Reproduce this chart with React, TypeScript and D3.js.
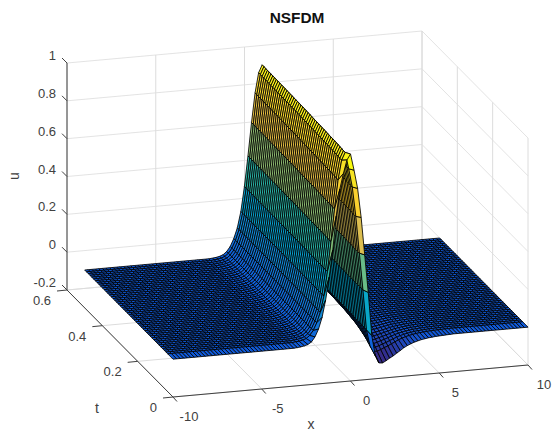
import React from "react";
import * as d3 from "d3";

const xTicks = [-10, -5, 0, 5, 10];
const tTicks = [0, 0.2, 0.4, 0.6];
const zTicks = [-0.2, 0, 0.2, 0.4, 0.6, 0.8, 1];
const xStart = -10, xStep = 0.2;
const tRows = [0,0.03,0.04,0.05,0.06,0.07,0.08,0.09,0.1,0.11,0.12,0.13,0.14,0.15,0.16,0.17,0.18,0.19,0.2,0.21,0.22,0.23,0.24,0.25,0.26,0.27,0.28,0.29,0.3,0.31,0.32,0.33,0.34,0.35,0.36,0.37,0.38,0.39,0.4,0.41,0.42,0.43,0.44,0.45,0.46,0.47,0.48,0.49,0.5];

// u at t = 0, x = -10..10 in steps of 0.2
const initialLeft = [0.002,0.004,0.008,0.013,0.025,0.05,0.09,0.15,0.24,0.36,0.5,0.68,0.82,0.9,0.97];
const initialRight = [1,0.913,0.815,0.66,0.46,0.26,0.03,-0.08,-0.118,-0.12,-0.11,-0.098,-0.088,-0.075,-0.063,-0.05,-0.04,-0.032,-0.025,-0.02,-0.015,-0.012,-0.009,-0.007,-0.005,-0.004,-0.003,-0.002,-0.001];
// u for later rows
const laterLeft = [0.002,0.004,0.008,0.015,0.03,0.055,0.095,0.15,0.235,0.365,0.525,0.7,0.855,0.96];
const laterRight = [1,0.91,0.81,0.65,0.45,0.25,0.04,0.01];
// transient negative tail, x = 1.2 upward
const tail = [-0.01,-0.09,-0.118,-0.12,-0.11,-0.098,-0.088,-0.075,-0.063,-0.05,-0.04,-0.032,-0.025,-0.02,-0.015,-0.012,-0.009,-0.007,-0.005,-0.004,-0.003,-0.002,-0.001];
const tailWeight = [1,0.72,0.62,0.54,0.47,0.41,0.36,0.31,0.27,0.23,0.2,0.18,0.16,0.14,0.12,0.1,0.09,0.08,0.07,0.06,0.05,0.04,0.03,0.025,0.02,0.015,0.01,0.005];
const peakScale = [1,0.98,0.98,0.982,0.982,0.984,0.984,0.985,0.985,0.986,0.986,0.987,0.987,0.988,0.988,0.989,0.989,0.99,0.99,0.991,0.991,0.992,0.992,0.993,0.993,0.994,0.994,0.995,0.995,0.995,0.995,0.996,0.996,0.996,0.996,0.997,0.997,0.997,0.997,0.998,0.998,0.998,0.998,0.999,0.999,0.999,0.999,1,1];
const parulaPos = [0, 0.11, 0.22, 0.33, 0.44, 0.56, 0.67, 0.78, 0.89, 1];
const parulaStops = ["#352a87","#0f5cdd","#1481d6","#06a4ca","#2eb7a4","#87bf77","#d1bb59","#fec832","#f5d92c","#f9fb0e"];

const N = 101;
const peakIdx = 50;
const at = (left: number[], right: number[], i: number) => {
  if (i < peakIdx) { const j = i - (peakIdx - left.length); return j >= 0 ? left[j] : 0; }
  const j = i - peakIdx; return j < right.length ? right[j] : 0;
};
const zAt = (k: number, i: number) => {
  if (k === 0) return at(initialLeft, initialRight, i);
  const tailIdx = i - (peakIdx + 6);
  const w = k < tailWeight.length ? tailWeight[k] : 0;
  const d = tailIdx >= 0 && tailIdx < tail.length ? tail[tailIdx] : 0;
  return peakScale[k] * at(laterLeft, laterRight, i) + w * d;
};

const X = d3.scaleLinear().domain([-10, 10]).range([0, 1]);
const T = d3.scaleLinear().domain([0, 0.6]).range([0, 1]);
const Z = d3.scaleLinear().domain([-0.2, 1]).range([0, 1]);
const O = [173, 397], VX = [355, -32], VT = [-106, -107], VZ = [0, -227];
const P = (x: number, t: number, z: number): [number, number] => [
  O[0] + VX[0] * X(x) + VT[0] * T(t) + VZ[0] * Z(z),
  O[1] + VX[1] * X(x) + VT[1] * T(t) + VZ[1] * Z(z),
];
const color = d3.scaleLinear<string>().domain(parulaPos.map((p) => -0.12 + 1.12 * p)).range(parulaStops).interpolate(d3.interpolateRgb).clamp(true);
const line = d3.line();
const pth = (a: [number, number], b: [number, number]) => line([a, b]) as string;

const grid = "#dcdcdc", ax = "#404040";
const font = "Arial, 'Liberation Sans', sans-serif";

export default function App() {
  const faces: React.ReactNode[] = [];
  for (let k = tRows.length - 2; k >= 0; k--) {
    for (let i = N - 2; i >= 0; i--) {
      const x0 = xStart + i * xStep, x1 = x0 + xStep, t0 = tRows[k], t1 = tRows[k + 1];
      const pts = [P(x0, t0, zAt(k, i)), P(x1, t0, zAt(k, i + 1)), P(x1, t1, zAt(k + 1, i + 1)), P(x0, t1, zAt(k + 1, i))];
      faces.push(<polygon key={k + "-" + i} points={pts.map((p) => p.join(",")).join(" ")} fill={color(zAt(k, i))} stroke="#000" strokeWidth={0.85} strokeLinejoin="round" />);
    }
  }
  return (
    <svg width={552} height={432} style={{ position: "absolute", left: 0, top: 0, background: "#fff" }} fontFamily={font}>
      {zTicks.map((z) => <path key={"a" + z} d={(line as any)([P(-10, 0.6, z), P(10, 0.6, z), P(10, 0, z)])} fill="none" stroke={grid} strokeWidth={0.8} />)}
      {xTicks.map((x) => <path key={"b" + x} d={(line as any)([P(x, 0, -0.2), P(x, 0.6, -0.2), P(x, 0.6, 1)])} fill="none" stroke={grid} strokeWidth={1} />)}
      {tTicks.map((t) => <path key={"c" + t} d={(line as any)([P(-10, t, -0.2), P(10, t, -0.2), P(10, t, 1)])} fill="none" stroke={grid} strokeWidth={1} />)}
      {faces}
      <path d={pth(P(-10, 0, -0.2), P(10, 0, -0.2))} stroke={ax} strokeWidth={1} />
      <path d={pth(P(-10, 0, -0.2), P(-10, 0.6, -0.2))} stroke={ax} strokeWidth={1} />
      <path d={pth(P(-10, 0.6, -0.2), P(-10, 0.6, 1))} stroke={ax} strokeWidth={1} />
      {xTicks.map((x) => { const p = P(x, 0, -0.2); return <g key={"xt" + x}><path d={`M${p[0]},${p[1]}l4,4.5`} stroke={ax} /><text x={p[0] + 16} y={p[1] + 24} fontSize={13} fill={ax} textAnchor="middle">{x}</text></g>; })}
      {tTicks.map((t) => { const p = P(-10, t, -0.2); return <g key={"tt" + t}><path d={`M${p[0]},${p[1]}l-10,1`} stroke={ax} /><text x={p[0] - 16} y={p[1] + 15} fontSize={13} fill={ax} textAnchor="end">{t}</text></g>; })}
      {zTicks.map((z) => { const p = P(-10, 0.6, z); return <g key={"zt" + z}><path d={`M${p[0]},${p[1]}l-5,-5`} stroke={ax} /><text x={p[0] - 11} y={p[1] - 3} fontSize={13} fill={ax} textAnchor="end">{z}</text></g>; })}
      <text x={311} y={429} fontSize={14} fill={ax} textAnchor="middle">x</text>
      <text x={97} y={413} fontSize={14} fill={ax} textAnchor="middle">t</text>
      <text transform="translate(19,176) rotate(-90)" fontSize={14} fill={ax} textAnchor="middle">u</text>
      <text x={297} y={23} fontSize={15.4} fontWeight="bold" fill="#111" textAnchor="middle">NSFDM</text>
    </svg>
  );
}
